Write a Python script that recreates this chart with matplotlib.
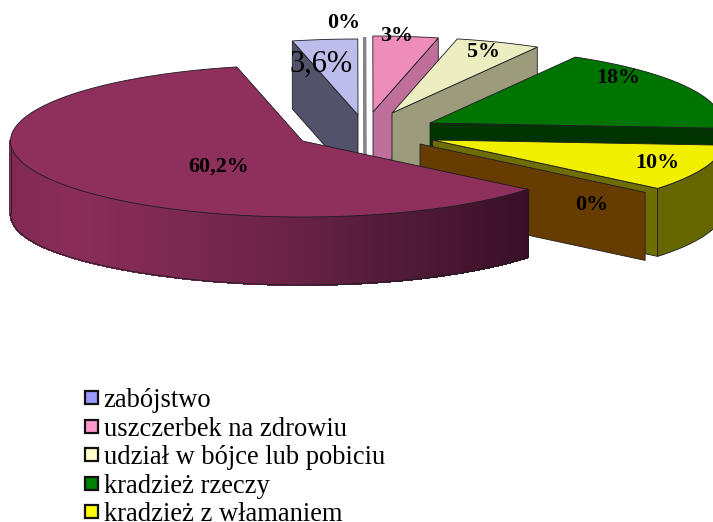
import numpy as np
import matplotlib
matplotlib.use("Agg")
import matplotlib.pyplot as plt
from matplotlib.patches import Polygon, Patch
from matplotlib.collections import PolyCollection
from matplotlib.colors import LinearSegmentedColormap

plt.rcParams['font.family'] = ['Liberation Serif', 'DejaVu Serif']

# data
categories = ["zabójstwo", "zero", "uszczerbek na zdrowiu", "udział w bójce lub pobiciu",
              "kradzież rzeczy", "kradzież z włamaniem", "zero2", "inne"]
values = [3.6, 0.0, 3.6, 4.7, 17.8, 9.9, 0.0, 60.4]
value_labels = ["3,6%", "0%", "3%", "5%", "18%", "10%", "0%", "60,2%"]
legend_labels = ["zabójstwo", "uszczerbek na zdrowiu", "udział w bójce lub pobiciu",
                 "kradzież rzeczy", "kradzież z włamaniem"]
legend_colors = ["#9999ff", "#ff99cc", "#ffffcc", "#008000", "#ffff00"]

# style
top_colors = ["#bdbdeb", "#999999", "#ee8db9", "#ecedc0", "#007400", "#f0f000", "#663c00", "#8e2f5c"]
side_colors = ["#52536a", "#858585", "#c06f9b", "#9c9c7c", "#003300", "#6e6e00", "#663c00", "#3d1028"]
apex_x = [358, 365, 373, 392, 430, 432.5, 420, 302.5]
apex_y = [115, 113, 112, 113, 123, 140, 144, 141]
label_x = [321, 344, 397, 483, 618, 657, 592, 219]
label_y = [64, 23, 36, 52, 78, 163, 205, 167]
label_size = [22, 15.8, 15.8, 15.8, 15.8, 15.8, 15.8, 15.8]
label_weight = ["normal"] + ["bold"] * 7
start_angle = -13.0
RX, RY, DEPTH = 292.0, 76.0, 68.0
EDGE = "#1c1c24"
LW = 0.6

fig = plt.figure(figsize=(7.13, 5.22), dpi=100)
ax = fig.add_axes([0, 0, 1, 1])
ax.set_xlim(0, 713)
ax.set_ylim(522, 0)
ax.axis("off")


def rim(cx, cy, theta_deg):
    t = np.radians(theta_deg)
    return cx + RX * np.sin(t), cy - RY * np.cos(t)


angles = start_angle + np.concatenate([[0], np.cumsum(values)]) * 3.6
purple_i = len(values) - 1

for i in range(len(values)):
    a0, a1 = angles[i], angles[i + 1]
    cx, cy = apex_x[i], apex_y[i]
    th = np.linspace(a0, a1, max(2, int(abs(a1 - a0) * 2)))
    xs, ys = rim(cx, cy, th)
    z = 2 + i * 0.1
    if values[i] == 0:
        xe, ye = rim(cx, cy, a0)
        face = [(cx, cy), (xe, ye), (xe, ye + DEPTH), (cx, cy + DEPTH)]
        if abs(np.sin(np.radians(a0))) < 0.01:
            ax.add_patch(Polygon(face, closed=True, fc=side_colors[i], ec=side_colors[i], lw=2.0, zorder=z))
        else:
            ax.add_patch(Polygon(face, closed=True, fc=side_colors[i], ec=EDGE, lw=LW, zorder=z))
        continue

    if i == purple_i:
        # curved outer wall with gradient across the front arc
        tw = np.linspace(angles[i], 270.0, 260)
        wx, wy = rim(cx, cy, tw)
        h = DEPTH + 5.0 * np.clip(-np.sin(np.radians(tw)), 0, 1) ** 4
        verts = [[(wx[k], wy[k]), (wx[k + 1], wy[k + 1]),
                  (wx[k + 1], wy[k + 1] + h[k + 1]), (wx[k], wy[k] + h[k])]
                 for k in range(len(tw) - 1)]
        cmap = LinearSegmentedColormap.from_list(
            "w", [(0, "#7f2a53"), (0.12, "#8a2d59"), (0.45, "#72264a"), (0.72, "#541c38"), (1, "#3a1026")])
        mids = (0.5 * (wx[:-1] + wx[1:]) - wx.min()) / (wx.max() - wx.min())
        pc = PolyCollection(verts, facecolors=cmap(mids), edgecolors=cmap(mids), linewidths=0.8,
                            antialiaseds=False, zorder=z)
        ax.add_collection(pc)
        ax.plot(wx, wy + h, color=EDGE, lw=LW, zorder=z + 0.01)
        ax.plot([wx[0], wx[0]], [wy[0], wy[0] + h[0]], color=EDGE, lw=LW, zorder=z + 0.01)
        ax.plot([wx[-1], wx[-1]], [wy[-1], wy[-1] + h[-1]], color=EDGE, lw=LW, zorder=z + 0.01)
    else:
        # radial cut wall, on the side of the slice facing the viewer
        use = a0 if i == 0 else a1
        xe, ye = rim(cx, cy, use)
        face = [(cx, cy), (xe, ye), (xe, ye + DEPTH), (cx, cy + DEPTH)]
        ax.add_patch(Polygon(face, closed=True, fc=side_colors[i], ec=EDGE, lw=LW, zorder=z))
        # outer wall where the rim turns to the front
        if a1 > 90:
            tw = np.linspace(max(a0, 90), a1, 60)
            wx, wy = rim(cx, cy, tw)
            poly = np.column_stack([np.r_[wx, wx[::-1]], np.r_[wy, (wy + DEPTH)[::-1]]])
            ax.add_patch(Polygon(poly, closed=True, fc="#666600", ec=EDGE, lw=LW, zorder=z))

    top = np.column_stack([np.r_[cx, xs], np.r_[cy, ys]])
    ax.add_patch(Polygon(top, closed=True, fc=top_colors[i], ec=EDGE, lw=LW, zorder=z + 0.02))

for i, s in enumerate(value_labels):
    ax.text(label_x[i], label_y[i], s, ha="center", va="center", fontsize=label_size[i],
            fontweight=label_weight[i], color="black", zorder=10)

handles = [Patch(facecolor=c, edgecolor="#111111", linewidth=1.6) for c in legend_colors]
ax.legend(handles, legend_labels, loc="upper left", bbox_to_anchor=(85 / 713, 1 - 388 / 522),
          bbox_transform=fig.transFigure, frameon=False, fontsize=19.1, handlelength=0.5, handleheight=0.38,
          handletextpad=0.2, labelspacing=0.133, borderpad=0, borderaxespad=0)

fig.savefig("out.png", dpi=100)
